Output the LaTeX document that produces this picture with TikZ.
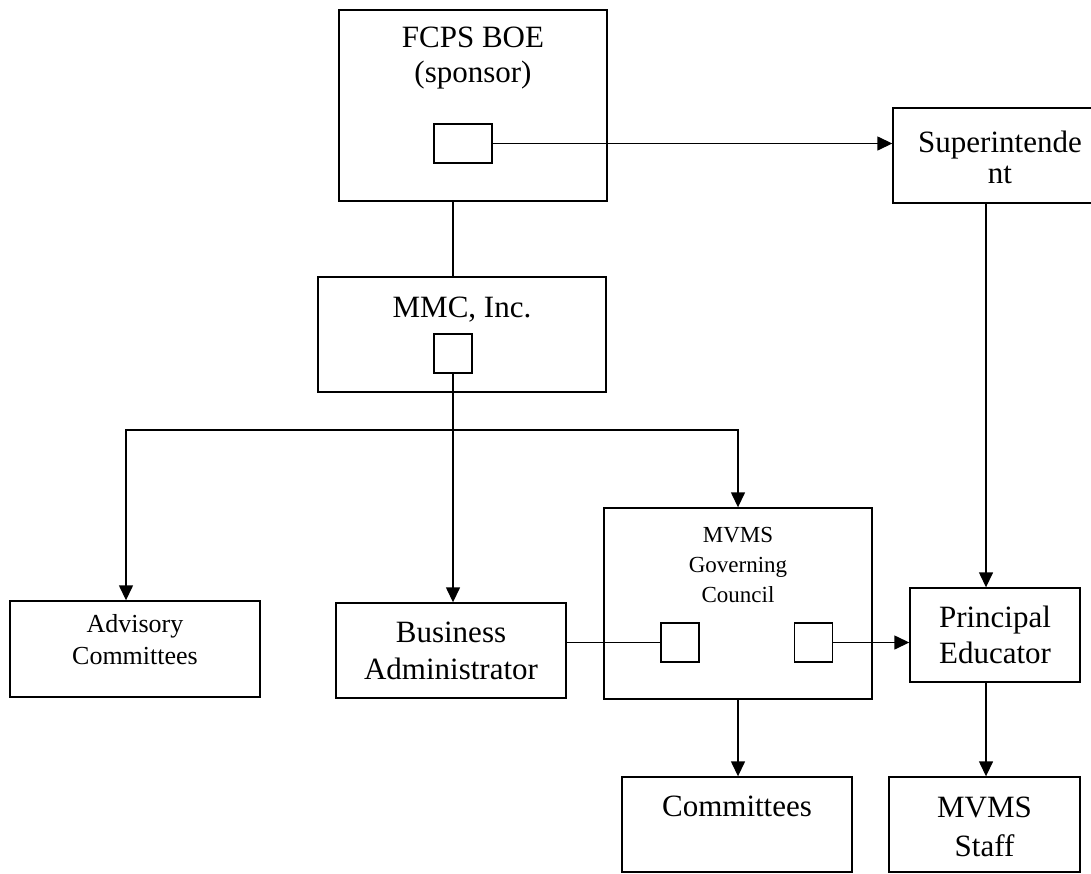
\documentclass[tikz,border=0pt]{standalone}
\usepackage{fontspec}
\setmainfont{Liberation Serif}
\usetikzlibrary{arrows.meta,positioning}

\tikzset{
  box/.style={draw,line width=0.7pt,inner sep=0pt},
  port/.style={box,minimum width=19pt,minimum height=19.5pt},
  lbl/.style={inner sep=0pt,align=center},
  link/.style={line width=0.7pt},
  arr/.style={link,-{Triangle[length=7.5pt,width=7pt]}}
}

\begin{document}
\begin{tikzpicture}[x=0.5pt,y=-0.5pt]
  \useasboundingbox (0,0) rectangle (1091,873);

  % boxes
  \node[box,minimum width=134pt,minimum height=95.5pt] (fcps) at (473,105.5) {};
  \node[port,minimum width=29pt] (fcpsport) at (463,143.5) {};
  \node[box,minimum width=107pt,minimum height=47.5pt] (supt) at (1000,155.5) {};
  \node[box,minimum width=144pt,minimum height=57.5pt] (mmc) at (462,334.5) {};
  \node[port] (mmcport) at (453,353.5) {};
  \node[box,minimum width=125pt,minimum height=48pt] (adv) at (135,649) {};
  \node[box,minimum width=115pt,minimum height=47.5pt] (bus) at (451,650.5) {};
  \node[box,minimum width=134pt,minimum height=95.5pt] (gc) at (738,603.5) {};
  \node[port] (gcleft) at (680,642.5) {};
  \node[port] (gcright) at (813.5,642.5) {};
  \node[box,minimum width=85pt,minimum height=47pt] (prin) at (995,635) {};
  \node[box,minimum width=115pt,minimum height=47.5pt] (comm) at (737,824.5) {};
  \node[box,minimum width=95.5pt,minimum height=47.5pt] (staff) at (984.5,824.5) {};

  % texts
  \node[lbl,font=\fontsize{15.5}{17.5}\selectfont,below=8.75pt of fcps.north] (fcpst) {FCPS BOE\\(sponsor)};
  \node[lbl,font=\fontsize{15.5}{15.5}\selectfont,below=11.5pt of supt.north] (suptt) {Superintende\\nt};
  \node[lbl,font=\fontsize{15.5}{17.5}\selectfont,below=10.25pt of mmc.north] (mmct) {MMC, Inc.};
  \node[lbl,font=\fontsize{11.5}{15}\selectfont,below=10pt of gc.north] (gct) {MVMS\\Governing\\Council};
  \node[lbl,font=\fontsize{13}{16}\selectfont,below=7pt of adv.north] (advt) {Advisory\\Committees};
  \node[lbl,font=\fontsize{15.5}{18.5}\selectfont,below=9.5pt of bus.north] (bust) {Business\\Administrator};
  \node[lbl,font=\fontsize{15.5}{18}\selectfont,below=9pt of prin.north] (print) {Principal\\Educator};
  \node[lbl,font=\fontsize{15.5}{17.5}\selectfont,below=9.5pt of comm.north] (commt) {Committees};
  \node[lbl,font=\fontsize{15.5}{19.5}\selectfont,below=10pt of staff.north] (stafft) {MVMS\\Staff};

  % connectors
  \coordinate (split) at (453,430);
  \coordinate (ac) at (126,0);
  \coordinate (pe) at (986,0);
  \draw[arr] (fcpsport.east) -- (fcpsport.east -| supt.west);
  \draw[link] (fcps.south -| mmcport) -- (mmc.north -| mmcport);
  \draw[arr] (mmcport.south) -- (mmcport.south |- bus.north);
  \draw[arr] (split) -| (adv.north -| ac);
  \draw[arr] (split) -| (gc.north);
  \draw[link] (bus.east |- gcleft) -- (gcleft.west);
  \draw[arr] (gcright.east) -- (gcright.east -| prin.west);
  \draw[arr] (supt.south -| pe) -- (prin.north -| pe);
  \draw[arr] (gc.south) -- (gc.south |- comm.north);
  \draw[arr] (prin.south -| pe) -- (staff.north -| pe);
\end{tikzpicture}
\end{document}
